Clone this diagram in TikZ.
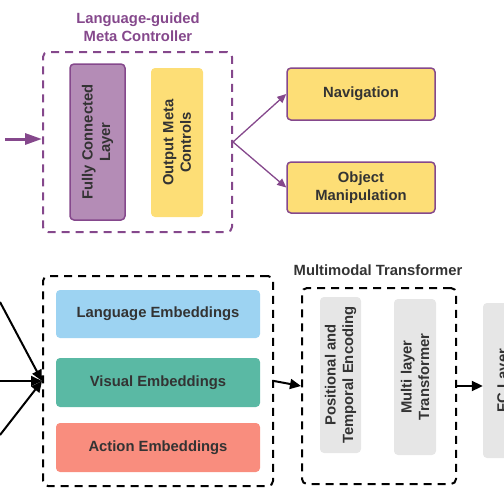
\documentclass[tikz,border=0pt]{standalone}
\usepackage{fontspec}
\setmainfont{Liberation Sans}
\usetikzlibrary{arrows.meta}
\definecolor{mcpurple}{RGB}{133,72,140}
\definecolor{fcfill}{RGB}{180,140,182}
\definecolor{ctlyellow}{RGB}{253,222,118}
\definecolor{langblue}{RGB}{157,211,242}
\definecolor{visgreen}{RGB}{90,185,164}
\definecolor{actred}{RGB}{249,141,126}
\definecolor{tfgray}{RGB}{230,230,230}
\definecolor{txtgray}{RGB}{51,51,51}
\newcommand{\lblfont}{\fontsize{14.8pt}{17.5pt}\selectfont\bfseries}
\begin{document}
\begin{tikzpicture}[x=1pt, y=-1pt,
    lbl/.style={font=\lblfont, text=txtgray, align=center, inner sep=0pt},
    blk/.style={lbl, rounded corners=4pt},
    frame/.style={draw, rounded corners=5pt, line width=2pt, dash pattern=on 8pt off 6pt},
    purplearr/.style={-{Triangle[length=9pt, width=8pt]}, mcpurple, line width=1.3pt},
    blackarr/.style={-{Triangle[length=11pt, width=10pt]}, black, line width=2pt}]
    \clip (0,0) rectangle (504,504);

    % Meta controller
    \node[lbl, text=mcpurple] (mctitle) at (138,27) {Language-guided\\Meta Controller};
    \node[frame, mcpurple, minimum width=189pt, minimum height=180pt] (mc) at (137.5,142) {};
    \node[blk, draw=mcpurple, line width=1.5pt, fill=fcfill, rotate=90, minimum width=156pt, minimum height=55pt] (fc) at (97.5,142) {Fully Connected\\Layer};
    \node[blk, fill=ctlyellow, rotate=90, minimum width=149pt, minimum height=52pt] (omc) at (177,142.5) {Output Meta\\Controls};

    % Meta controls
    \node[blk, draw=mcpurple, line width=1.5pt, fill=ctlyellow, minimum width=148pt, minimum height=52pt] (nav) at (361,94) {Navigation};
    \node[blk, draw=mcpurple, line width=1.5pt, fill=ctlyellow, minimum width=148pt, minimum height=51pt] (obj) at (361,187.5) {Object\\Manipulation};

    % Embeddings
    \node[frame, minimum width=230pt, minimum height=210pt] (emb) at (158,381) {};
    \node[blk, fill=langblue, minimum width=204pt, minimum height=48pt] (lang) at (158,314) {Language Embeddings};
    \node[blk, fill=visgreen, minimum width=204pt, minimum height=49pt] (vis) at (158,382.5) {Visual Embeddings};
    \node[blk, fill=actred, minimum width=204pt, minimum height=49pt] (act) at (158,447.5) {Action Embeddings};

    % Multimodal transformer
    \node[lbl] (mttitle) at (378,270) {Multimodal Transformer};
    \node[frame, minimum width=154pt, minimum height=196pt] (mt) at (379,386) {};
    \node[blk, fill=tfgray, rotate=90, minimum width=156pt, minimum height=41pt] (pos) at (340.5,375) {Positional and\\Temporal Encoding};
    \node[blk, fill=tfgray, rotate=90, minimum width=156pt, minimum height=42pt] (mlt) at (415,377) {Multi layer\\Transformer};
    \node[blk, fill=tfgray, rotate=90, minimum width=155pt, minimum height=42pt] (fcl) at (504,380.5) {FC Layer};

    % Inputs
    \coordinate (mcin) at (5,139);
    \coordinate (in1) at (0,302);
    \coordinate (in2) at (0,381);
    \coordinate (in3) at (0,435);

    % Connections
    \draw[-{Triangle[length=17pt, width=11pt]}, mcpurple, line width=3pt] (mcin) -- (mcin -| mc.west);
    \draw[purplearr] (mc.east) -- (nav.west);
    \draw[purplearr] (mc.east) -- (obj.west);

    \draw[blackarr] (in1) -- (emb.west);
    \draw[blackarr] (in2) -- (emb.west);
    \draw[blackarr] (in3) -- (emb.west);
    \draw[blackarr] (emb.east) -- (mt.west);
    \draw[blackarr] (mt.east) -- (mt.east -| fcl.north);
\end{tikzpicture}
\end{document}
